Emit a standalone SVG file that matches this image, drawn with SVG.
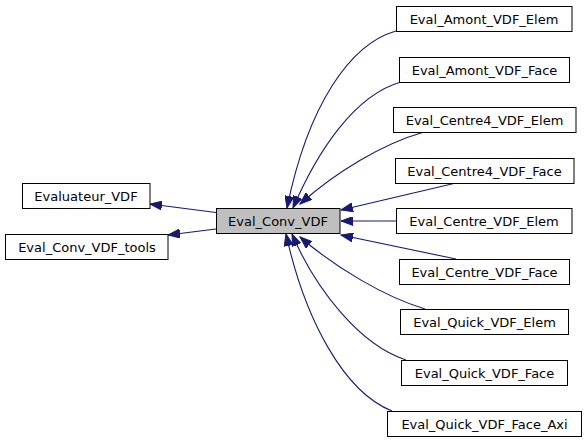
<svg xmlns="http://www.w3.org/2000/svg" width="587" height="443" viewBox="0 0 587 443">
<style>
.n rect{fill:#ffffff;stroke:#000000;stroke-width:1}
.n.main rect{fill:#bfbfbf}
.n text{font-family:"DejaVu Sans",sans-serif;font-size:13px;text-anchor:middle;fill:#000000}
.e path{fill:none;stroke:#191970;stroke-width:1.1;marker-end:url(#ah)}
</style>
<defs>
<marker id="ah" markerUnits="userSpaceOnUse" markerWidth="13" markerHeight="9" refX="12" refY="4.5" orient="auto">
<path d="M0,0 L12,4.5 L0,9 z" fill="#191970" stroke="#191970" stroke-width="1"/>
</marker>
</defs>
<rect width="587" height="443" fill="#ffffff"/>
<g class="e">
<path d="M216,212.5 L150,204"/>
<path d="M216,229 L168,235"/>
<path d="M396,31 C350,44 308,105 287,208"/>
<path d="M401,82 C355,95 318,150 293,208"/>
<path d="M424,132 C382,144 336,172 300,204"/>
<path d="M456,183 L341,210"/>
<path d="M397,221 L341,221"/>
<path d="M456,259 L341,235"/>
<path d="M425,309 C385,297 336,268 300,237"/>
<path d="M406,360 C360,345 316,290 292,234"/>
<path d="M392,411 C344,392 305,320 286,234"/>
</g>
<g id="Eval_Conv_VDF" class="n main"><rect x="216.5" y="208.5" width="123.5" height="25"/><text x="278" y="225.5">Eval_Conv_VDF</text></g>
<g id="Evaluateur_VDF" class="n"><rect x="22.5" y="183.5" width="127.5" height="25"/><text x="86" y="200.5">Evaluateur_VDF</text></g>
<g id="Eval_Conv_VDF_tools" class="n"><rect x="5.5" y="234.5" width="162.5" height="25"/><text x="87" y="251.5">Eval_Conv_VDF_tools</text></g>
<g id="Eval_Amont_VDF_Elem" class="n"><rect x="396.5" y="6.5" width="175.5" height="25"/><text x="484" y="23.5">Eval_Amont_VDF_Elem</text></g>
<g id="Eval_Amont_VDF_Face" class="n"><rect x="399.5" y="57.5" width="170" height="25"/><text x="484.5" y="74.5">Eval_Amont_VDF_Face</text></g>
<g id="Eval_Centre4_VDF_Elem" class="n"><rect x="393.5" y="107.5" width="182.5" height="25"/><text x="484.5" y="124.5">Eval_Centre4_VDF_Elem</text></g>
<g id="Eval_Centre4_VDF_Face" class="n"><rect x="395.5" y="158.5" width="178.5" height="25"/><text x="484.5" y="175.5">Eval_Centre4_VDF_Face</text></g>
<g id="Eval_Centre_VDF_Elem" class="n"><rect x="396.5" y="208.5" width="175.5" height="25"/><text x="484" y="225.5">Eval_Centre_VDF_Elem</text></g>
<g id="Eval_Centre_VDF_Face" class="n"><rect x="399.5" y="259.5" width="170" height="25"/><text x="484.5" y="276.5">Eval_Centre_VDF_Face</text></g>
<g id="Eval_Quick_VDF_Elem" class="n"><rect x="400.5" y="309.5" width="168" height="25"/><text x="484.5" y="326.5">Eval_Quick_VDF_Elem</text></g>
<g id="Eval_Quick_VDF_Face" class="n"><rect x="401.5" y="360.5" width="166" height="25"/><text x="484.5" y="377.5">Eval_Quick_VDF_Face</text></g>
<g id="Eval_Quick_VDF_Face_Axi" class="n"><rect x="387.5" y="411.5" width="194" height="25"/><text x="484.5" y="428.5">Eval_Quick_VDF_Face_Axi</text></g>
</svg>
